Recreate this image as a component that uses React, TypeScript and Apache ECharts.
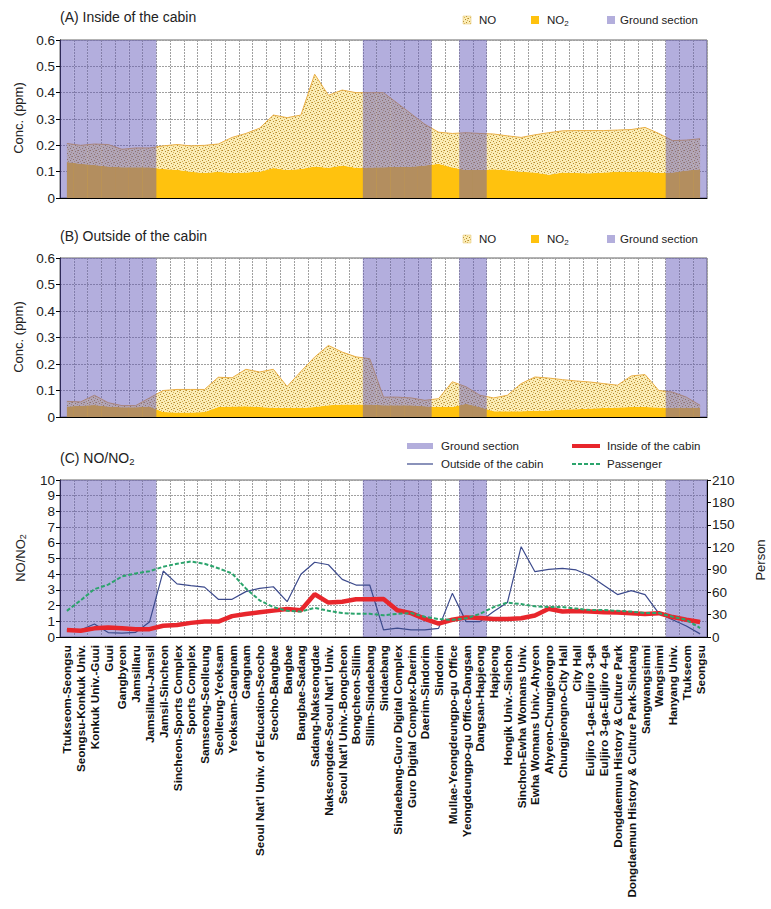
import React, { useEffect, useRef } from "react";
import * as echarts from "echarts";

const categories = [
  "Ttukseom-Seongsu",
  "Seongsu-Konkuk Univ.",
  "Konkuk Univ.-Guui",
  "Guui",
  "Gangbyeon",
  "Jamsillaru",
  "Jamsillaru-Jamsil",
  "Jamsil-Sincheon",
  "Sincheon-Sports Complex",
  "Sports Complex",
  "Samseong-Seolleung",
  "Seolleung-Yeoksam",
  "Yeoksam-Gangnam",
  "Gangnam",
  "Seoul Nat'l Univ. of Education-Seocho",
  "Seocho-Bangbae",
  "Bangbae",
  "Bangbae-Sadang",
  "Sadang-Nakseongdae",
  "Nakseongdae-Seoul Nat'l Univ.",
  "Seoul Nat'l Univ.-Bongcheon",
  "Bongcheon-Sillim",
  "Sillim-Sindaebang",
  "Sindaebang",
  "Sindaebang-Guro Digital Complex",
  "Guro Digital Complex-Daerim",
  "Daerim-Sindorim",
  "Sindorim",
  "Mullae-Yeongdeungpo-gu Office",
  "Yeongdeungpo-gu Office-Dangsan",
  "Dangsan-Hapjeong",
  "Hapjeong",
  "Hongik Univ.-Sinchon",
  "Sinchon-Ewha Womans Univ.",
  "Ewha Womans Univ.-Ahyeon",
  "Ahyeon-Chungjeongno",
  "Chungjeongno-City Hall",
  "City Hall",
  "Euljiro 1-ga-Euljiro 3-ga",
  "Euljiro 3-ga-Euljiro 4-ga",
  "Dongdaemun History & Culture Park",
  "Dongdaemun History & Culture Park-Sindang",
  "Sangwangsimni",
  "Wangsimni",
  "Hanyang Univ.",
  "Ttukseom",
  "Seongsu",
];

// 1 = ground section
const groundSection = [
  1, 1, 1, 1, 1, 1, 1,
  0, 0, 0, 0, 0, 0, 0, 0, 0, 0, 0, 0, 0, 0, 0,
  1, 1, 1, 1, 1,
  0, 0,
  1, 1,
  0, 0, 0, 0, 0, 0, 0, 0, 0, 0, 0, 0, 0,
  1, 1, 1,
];

// (A) Inside of the cabin, ppm
const no2Inside = [
  0.137, 0.130, 0.125, 0.120, 0.117, 0.117, 0.117, 0.110, 0.107, 0.100,
  0.095, 0.100, 0.095, 0.097, 0.100, 0.114, 0.106, 0.110, 0.120, 0.115,
  0.123, 0.115, 0.116, 0.117, 0.119, 0.119, 0.123, 0.130, 0.116, 0.106,
  0.106, 0.109, 0.105, 0.100, 0.097, 0.088, 0.097, 0.095, 0.094, 0.097,
  0.100, 0.100, 0.101, 0.095, 0.097, 0.104, 0.109,
];
const noInside = [
  0.070, 0.070, 0.080, 0.083, 0.068, 0.073, 0.073, 0.088, 0.096, 0.098,
  0.105, 0.105, 0.135, 0.148, 0.165, 0.201, 0.199, 0.205, 0.350, 0.275,
  0.287, 0.285, 0.284, 0.283, 0.241, 0.201, 0.157, 0.120, 0.129, 0.142,
  0.139, 0.134, 0.131, 0.130, 0.143, 0.160, 0.158, 0.161, 0.162, 0.159,
  0.158, 0.160, 0.167, 0.150, 0.121, 0.116, 0.116,
];

// (B) Outside of the cabin, ppm
const no2Outside = [
  0.040, 0.042, 0.045, 0.040, 0.037, 0.037, 0.040, 0.019, 0.017, 0.017,
  0.019, 0.038, 0.040, 0.041, 0.038, 0.035, 0.034, 0.034, 0.038, 0.044,
  0.047, 0.047, 0.047, 0.044, 0.044, 0.044, 0.041, 0.038, 0.038, 0.050,
  0.038, 0.022, 0.022, 0.022, 0.024, 0.025, 0.028, 0.029, 0.032, 0.034,
  0.036, 0.038, 0.038, 0.036, 0.034, 0.034, 0.034,
];
const noOutside = [
  0.019, 0.015, 0.037, 0.014, 0.006, 0.006, 0.032, 0.081, 0.087, 0.087,
  0.085, 0.112, 0.108, 0.139, 0.132, 0.145, 0.081, 0.138, 0.188, 0.226,
  0.198, 0.180, 0.173, 0.031, 0.031, 0.028, 0.022, 0.031, 0.095, 0.064,
  0.044, 0.050, 0.060, 0.104, 0.127, 0.122, 0.113, 0.107, 0.100, 0.092,
  0.084, 0.117, 0.122, 0.064, 0.060, 0.041, 0.010,
];

// (C) NO/NO2 ratio and passengers
const ratioInside = [
  0.45, 0.40, 0.55, 0.60, 0.55, 0.50, 0.50, 0.72, 0.76, 0.90,
  0.98, 0.98, 1.33, 1.46, 1.57, 1.68, 1.78, 1.70, 2.72, 2.19,
  2.25, 2.40, 2.40, 2.42, 1.70, 1.52, 1.15, 0.85, 1.10, 1.25,
  1.21, 1.14, 1.15, 1.19, 1.37, 1.80, 1.62, 1.66, 1.62, 1.58,
  1.56, 1.52, 1.47, 1.52, 1.27, 1.10, 0.95,
];
const ratioOutside = [
  0.45, 0.45, 0.83, 0.28, 0.25, 0.30, 0.95, 4.20, 3.38, 3.27,
  3.18, 2.40, 2.40, 2.89, 3.10, 3.20, 2.25, 4.00, 4.76, 4.60,
  3.67, 3.31, 3.31, 0.45, 0.57, 0.45, 0.45, 0.55, 2.78, 0.98,
  0.98, 1.62, 2.19, 5.75, 4.16, 4.31, 4.37, 4.27, 3.90, 3.30,
  2.70, 2.95, 2.70, 1.50, 1.10, 0.70, 0.20,
];
const passenger = [
  35, 49, 64, 70, 81, 85, 88, 94, 98, 101,
  98, 92, 85, 65, 49, 40, 35, 34, 39, 35,
  32, 31, 31, 29, 31, 32, 27, 24, 23, 25,
  31, 40, 46, 44, 41, 40, 40, 38, 36, 36,
  35, 34, 32, 32, 27, 23, 12,
];

const concTicks = { min: 0, max: 0.6, interval: 0.1 };
const ratioTicks = { min: 0, max: 10, interval: 1 };
const personTicks = { min: 0, max: 210, interval: 30 };

const FONT = "'Liberation Sans', Arial, sans-serif";
const TXT = "#222";
const YELLOW = "#FFC20E";
const BAND = "rgba(97,86,183,0.48)";
const BAND_LIGHT = "#B3AEDC";

function makeDotPattern() {
  const c = document.createElement("canvas");
  c.width = 6;
  c.height = 6;
  const ctx = c.getContext("2d")!;
  ctx.fillStyle = "#FBEDB6";
  ctx.fillRect(0, 0, 6, 6);
  ctx.fillStyle = "#B48A30";
  const dots = [
    [0, 0],
    [3, 1],
    [1, 3],
    [4, 4],
  ];
  dots.forEach(([x, y]) => ctx.fillRect(x, y, 1, 1));
  ctx.fillStyle = "#D8B25A";
  [
    [2, 5],
    [5, 2],
    [5, 0],
  ].forEach(([x, y]) => ctx.fillRect(x, y, 1, 1));
  return { image: c, repeat: "repeat", imageWidth: 6, imageHeight: 6 } as any;
}

export default function App() {
  const ref = useRef<HTMLDivElement>(null);

  useEffect(() => {
    if (!ref.current) return;
    const chart = echarts.init(ref.current, undefined, { renderer: "svg" });
    const pattern = makeDotPattern();

    const grids = [
      { left: 60, top: 40, width: 647, height: 158 },
      { left: 60, top: 258, width: 647, height: 159 },
      { left: 60, top: 480, width: 647, height: 157 },
    ];

    const xAxisBase = (gi: number, showLabel: boolean) => ({
      type: "category",
      gridIndex: gi,
      data: categories,
      boundaryGap: true,
      axisLine: { show: true, onZero: false, lineStyle: { color: "#000", width: 1 } },
      axisTick: { show: false },
      axisLabel: showLabel
        ? {
            show: true,
            interval: 0,
            rotate: 90,
            fontSize: 11.7,
            fontWeight: "bold",
            color: "#111",
            margin: 8,
            fontFamily: FONT,
          }
        : { show: false },
      splitLine: {
        show: true,
        interval: 0,
        lineStyle: { color: "#a0a0a0", type: [2, 1], width: 1 },
      },
    });

    const yAxisBase = (gi: number, t: any, pos: string, split: boolean) => ({
      type: "value",
      gridIndex: gi,
      position: pos,
      min: t.min,
      max: t.max,
      interval: t.interval,
      axisLine: { show: true, lineStyle: { color: "#000", width: 1 } },
      axisTick: { show: true, length: 4, lineStyle: { color: "#000" } },
      axisLabel: { fontSize: 13.5, color: TXT, margin: 5, fontFamily: FONT },
      splitLine: split
        ? { show: true, lineStyle: { color: "#a0a0a0", type: [2, 1], width: 1 } }
        : { show: false },
    });

    const bandSeries = (gi: number, yi: number, top: number, z: number) => ({
      type: "bar",
      name: "Ground section",
      xAxisIndex: gi,
      yAxisIndex: yi,
      data: groundSection.map((g) => (g ? top : "-")),
      barWidth: "100%",
      barGap: "0%",
      itemStyle: { color: BAND },
      silent: true,
      z,
    });

    const areaPair = (gi: number, no2: number[], no: number[], stack: string) => [
      {
        type: "line",
        name: "NO2",
        xAxisIndex: gi,
        yAxisIndex: gi,
        stack,
        data: no2,
        symbol: "none",
        lineStyle: { width: 0 },
        areaStyle: { color: YELLOW, opacity: 1 },
        z: 2,
      },
      {
        type: "line",
        name: "NO",
        xAxisIndex: gi,
        yAxisIndex: gi,
        stack,
        data: no,
        symbol: "none",
        lineStyle: { width: 1, color: "#E9AE45" },
        areaStyle: { color: pattern, opacity: 1 },
        z: 2,
      },
    ];

    const legendAB = (dy: number) => [
      {
        type: "rect",
        shape: { x: 463, y: 16 + dy, width: 8, height: 8 },
        style: { fill: pattern, stroke: "#E0C070", lineWidth: 0.5 },
      },
      {
        type: "text",
        x: 479,
        y: 20 + dy,
        style: { text: "NO", fontSize: 11.5, fontFamily: FONT, fill: TXT, verticalAlign: "middle", align: "left" },
      },
      {
        type: "rect",
        shape: { x: 531, y: 16 + dy, width: 8, height: 8 },
        style: { fill: YELLOW },
      },
      {
        type: "text",
        x: 547,
        y: 20 + dy,
        style: {
          text: "NO{s|2}",
          fontSize: 11.5,
          fontFamily: FONT,
          fill: TXT,
          verticalAlign: "middle",
          align: "left",
          rich: { s: { fontSize: 8, fontFamily: FONT, fill: TXT, verticalAlign: "bottom", padding: [6, 0, 0, 0] } },
        },
      },
      {
        type: "rect",
        shape: { x: 607, y: 16 + dy, width: 8, height: 8 },
        style: { fill: BAND_LIGHT },
      },
      {
        type: "text",
        x: 620,
        y: 20 + dy,
        style: { text: "Ground section", fontSize: 11.5, fontFamily: FONT, fill: TXT, verticalAlign: "middle", align: "left" },
      },
    ];

    const titleText = (x: number, y: number, text: string) => ({
      type: "text",
      x,
      y,
      style: {
        text,
        fontSize: 14,
        fontFamily: FONT,
        fill: TXT,
        verticalAlign: "middle",
        align: "left",
        rich: { s: { fontSize: 9.5, fontFamily: FONT, fill: TXT, verticalAlign: "bottom", padding: [7, 0, 0, 0] } },
      },
    });

    const vText = (x: number, y: number, text: string) => ({
      type: "text",
      x,
      y,
      rotation: Math.PI / 2,
      style: {
        text,
        fontSize: 13,
        fontFamily: FONT,
        fill: TXT,
        verticalAlign: "middle",
        align: "center",
        rich: { s: { fontSize: 9, fontFamily: FONT, fill: TXT, verticalAlign: "bottom", padding: [6, 0, 0, 0] } },
      },
    });

    const legendLineText = (x: number, y: number, text: string) => ({
      type: "text",
      x,
      y,
      style: { text, fontSize: 11.5, fontFamily: FONT, fill: TXT, verticalAlign: "middle", align: "left" },
    });

    const option: any = {
      animation: false,
      textStyle: { fontFamily: FONT },
      grid: grids.map((g) => ({ ...g, show: true, borderColor: "#666", borderWidth: 1, backgroundColor: "transparent" })),
      xAxis: [xAxisBase(0, false), xAxisBase(1, false), xAxisBase(2, true)],
      yAxis: [
        yAxisBase(0, concTicks, "left", true),
        yAxisBase(1, concTicks, "left", true),
        yAxisBase(2, ratioTicks, "left", true),
        yAxisBase(2, personTicks, "right", false),
      ],
      series: [
        ...areaPair(0, no2Inside, noInside, "A"),
        bandSeries(0, 0, concTicks.max, 3),
        ...areaPair(1, no2Outside, noOutside, "B"),
        bandSeries(1, 1, concTicks.max, 3),
        bandSeries(2, 2, ratioTicks.max, 1),
        {
          type: "line",
          name: "Outside of the cabin",
          xAxisIndex: 2,
          yAxisIndex: 2,
          data: ratioOutside,
          symbol: "none",
          lineStyle: { color: "#3C4A8C", width: 1.2 },
          z: 3,
        },
        {
          type: "line",
          name: "Inside of the cabin",
          xAxisIndex: 2,
          yAxisIndex: 2,
          data: ratioInside,
          symbol: "none",
          lineStyle: { color: "#E8262C", width: 4.5 },
          z: 4,
        },
        {
          type: "line",
          name: "Passenger",
          xAxisIndex: 2,
          yAxisIndex: 3,
          data: passenger,
          symbol: "none",
          lineStyle: { color: "#2BA46C", width: 2, type: [4, 2] },
          z: 5,
        },
      ],
      graphic: [
        titleText(60, 17, "(A) Inside of the cabin"),
        titleText(60, 236, "(B) Outside of the cabin"),
        titleText(60, 458, "(C) NO/NO{s|2}"),
        ...legendAB(0),
        ...legendAB(219),
        vText(18, 118, "Conc. (ppm)"),
        vText(18, 337, "Conc. (ppm)"),
        vText(20, 558, "NO/NO{s|2}"),
        vText(760, 560, "Person"),
        {
          type: "rect",
          shape: { x: 407, y: 443, width: 26, height: 6 },
          style: { fill: BAND_LIGHT },
        },
        legendLineText(441, 446, "Ground section"),
        {
          type: "line",
          shape: { x1: 572, y1: 446, x2: 600, y2: 446 },
          style: { stroke: "#E8262C", lineWidth: 4 },
        },
        legendLineText(607, 446, "Inside of the cabin"),
        {
          type: "line",
          shape: { x1: 407, y1: 464, x2: 433, y2: 464 },
          style: { stroke: "#3C4A8C", lineWidth: 1.2 },
        },
        legendLineText(441, 464, "Outside of the cabin"),
        {
          type: "line",
          shape: { x1: 572, y1: 464, x2: 600, y2: 464 },
          style: { stroke: "#2BA46C", lineWidth: 2, lineDash: [4, 2] },
        },
        legendLineText(607, 464, "Passenger"),
      ],
    };

    chart.setOption(option);
    return () => chart.dispose();
  }, []);

  return (
    <div
      ref={ref}
      style={{ position: "fixed", left: 0, top: 0, width: 771, height: 909, background: "#fff" }}
    />
  );
}
